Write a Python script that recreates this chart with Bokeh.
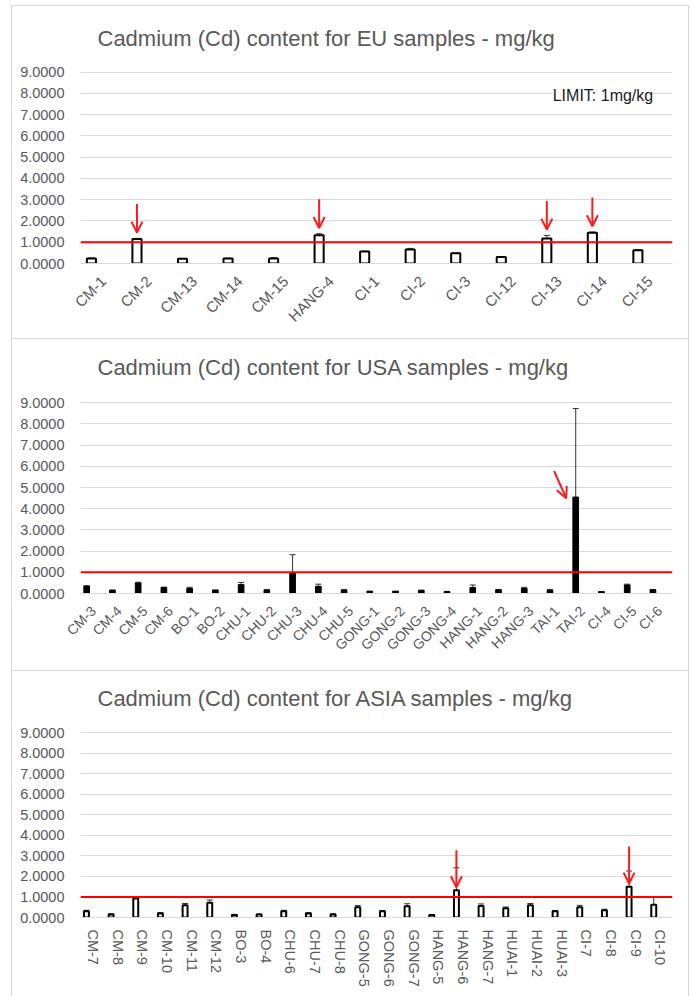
import math
from bokeh.plotting import figure
from bokeh.models import (ColumnDataSource, Span, Label, Arrow, OpenHead, Whisker,
                          TeeHead, NumeralTickFormatter, FixedTicker, Range1d)
from bokeh.transform import dodge
from bokeh.layouts import column
from bokeh.embed import file_html
from bokeh.resources import INLINE

# ---------------- data ----------------
y_ticks = [0, 1, 2, 3, 4, 5, 6, 7, 8, 9]
limit_value = 1.0
limit_text = "LIMIT: 1mg/kg"

eu_title = "Cadmium (Cd) content for EU samples - mg/kg"
eu_samples = ["CM-1", "CM-2", "CM-13", "CM-14", "CM-15", "HANG-4", "CI-1", "CI-2",
              "CI-3", "CI-12", "CI-13", "CI-14", "CI-15"]
eu_mean = [0.24, 1.15, 0.22, 0.23, 0.24, 1.33, 0.56, 0.66, 0.48, 0.30, 1.17, 1.44, 0.62]
eu_err = [0.02, 0.03, 0.02, 0.02, 0.04, 0.07, 0.02, 0.05, 0.02, 0.02, 0.15, 0.04, 0.02]
eu_flagged = ["CM-2", "HANG-4", "CI-13", "CI-14"]

usa_title = "Cadmium (Cd) content for USA samples - mg/kg"
usa_samples = ["CM-3", "CM-4", "CM-5", "CM-6", "BO-1", "BO-2", "CHU-1", "CHU-2", "CHU-3",
               "CHU-4", "CHU-5", "GONG-1", "GONG-2", "GONG-3", "GONG-4", "HANG-1", "HANG-2",
               "HANG-3", "TAI-1", "TAI-2", "CI-4", "CI-5", "CI-6"]
usa_mean = [0.34, 0.14, 0.50, 0.28, 0.24, 0.15, 0.42, 0.15, 0.95, 0.34, 0.15, 0.10, 0.10,
            0.14, 0.09, 0.28, 0.17, 0.24, 0.15, 4.55, 0.08, 0.40, 0.17]
usa_err = [0.03, 0.03, 0.03, 0.02, 0.05, 0.02, 0.10, 0.04, 0.88, 0.10, 0.04, 0.01, 0.01,
           0.02, 0.01, 0.12, 0.02, 0.05, 0.04, 4.18, 0.01, 0.04, 0.02]
usa_flagged = ["TAI-2"]

asia_title = "Cadmium (Cd) content for ASIA samples - mg/kg"
asia_samples = ["CM-7", "CM-8", "CM-9", "CM-10", "CM-11", "CM-12", "BO-3", "BO-4", "CHU-6",
                "CHU-7", "CHU-8", "GONG-5", "GONG-6", "GONG-7", "HANG-5", "HANG-6", "HANG-7",
                "HUAI-1", "HUAI-2", "HUAI-3", "CI-7", "CI-8", "CI-9", "CI-10"]
asia_mean = [0.30, 0.15, 0.93, 0.20, 0.60, 0.72, 0.12, 0.15, 0.30, 0.20, 0.15, 0.50, 0.30,
             0.55, 0.12, 1.32, 0.56, 0.45, 0.60, 0.30, 0.50, 0.35, 1.50, 0.62]
asia_err = [0.05, 0.03, 0.05, 0.04, 0.08, 0.13, 0.03, 0.02, 0.05, 0.04, 0.03, 0.08, 0.04,
            0.12, 0.02, 1.10, 0.10, 0.06, 0.08, 0.04, 0.09, 0.05, 0.76, 0.36]
asia_flagged = ["HANG-6", "CI-9"]

FONT = "Liberation Sans"
GRAY_TXT = "#595959"
GRID = "#d9d9d9"
BAR_OFF = -0.26


def make_panel(title, cats, mean, err, flagged, plot_h, head_h, bottom,
               orient, label_size, label_standoff, hollow, arrow_style="above",
               show_limit_label=False, border_css=None, title_shift=34):
    src = ColumnDataSource(dict(
        cat=cats, mean=mean,
        upper=[m + e for m, e in zip(mean, err)],
        lower=[max(m - e, 0) for m, e in zip(mean, err)],
        xpos=[i + 0.5 + BAR_OFF for i in range(len(cats))],
    ))
    frame_h = plot_h + head_h
    y_top = y_ticks[-1] * frame_h / plot_h  # headroom above the 9.0 gridline holds the title
    p = figure(x_range=cats, y_range=Range1d(0, y_top), frame_width=590, frame_height=frame_h,
               min_border_left=68, min_border_right=18, min_border_top=0,
               min_border_bottom=bottom, output_backend="svg", toolbar_location=None,
               background_fill_color="white", border_fill_color="white")
    p.outline_line_color = None

    p.add_layout(Label(x=0, y=y_ticks[-1], text=title, x_offset=17, y_offset=title_shift,
                       text_align="left", text_baseline="middle", text_font=FONT,
                       text_font_size="22px", text_color=GRAY_TXT))

    p.yaxis.ticker = FixedTicker(ticks=y_ticks)
    p.yaxis.formatter = NumeralTickFormatter(format="0.0000")
    p.yaxis.axis_line_color = None
    p.yaxis.major_tick_line_color = None
    p.yaxis.minor_tick_line_color = None
    p.yaxis.major_label_standoff = 10
    p.yaxis.major_label_text_font = FONT
    p.yaxis.major_label_text_font_size = "14.5px"
    p.yaxis.major_label_text_color = GRAY_TXT

    p.xaxis.axis_line_color = GRID
    p.xaxis.major_tick_line_color = None
    p.xaxis.major_label_orientation = orient
    p.xaxis.major_label_text_font = FONT
    p.xaxis.major_label_text_font_size = label_size
    p.xaxis.major_label_text_color = GRAY_TXT
    p.xaxis.major_label_standoff = label_standoff

    p.xgrid.grid_line_color = None
    p.ygrid.grid_line_color = GRID
    p.ygrid.grid_line_width = 1

    if hollow:
        p.vbar(x=dodge("cat", BAR_OFF, range=p.x_range), top="mean", width=0.2, source=src,
               fill_color="white", line_color="black", line_width=2)
    else:
        p.vbar(x=dodge("cat", BAR_OFF, range=p.x_range), top="mean", width=0.22, source=src,
               fill_color="black", line_color="black", line_width=1)

    p.add_layout(Whisker(source=src, base="xpos", upper="upper", lower="lower",
                         line_color="#333333", line_width=1,
                         upper_head=TeeHead(size=6, line_color="#333333", line_width=1),
                         lower_head=TeeHead(size=6, line_color="#333333", line_width=1)))

    p.add_layout(Span(location=limit_value, dimension="width", line_color="#ff0000",
                      line_width=2))

    if show_limit_label:
        p.add_layout(Label(x=len(cats) - 0.38, y=8, text=limit_text, text_align="right",
                           text_baseline="middle", text_font=FONT, text_font_size="16px",
                           text_color="#1a1a1a", background_fill_color="white",
                           x_offset=-2, y_offset=-2))

    for name in flagged:
        i = cats.index(name)
        xb = i + 0.5 + BAR_OFF
        tip = mean[i] + err[i]
        if arrow_style == "diag":
            xs, ys, xe, ye = xb - 0.84, mean[i] + 1.23, xb - 0.37, mean[i] - 0.05
        elif arrow_style == "low":
            xs, ys, xe, ye = xb, mean[i] + 1.95, xb, mean[i] + 0.15
        else:
            xs, ys, xe, ye = xb, tip + 1.62, xb, tip + 0.27
        p.add_layout(Arrow(end=OpenHead(size=11, line_color="#ff1a1a", line_width=2),
                           x_start=xs, y_start=ys, x_end=xe, y_end=ye,
                           line_color="#ff1a1a", line_width=2))
    if border_css:
        p.styles = border_css
    return p


p1 = make_panel(eu_title, eu_samples, eu_mean, eu_err, eu_flagged, 190, 65, 77,
                math.pi / 4, "15px", 9, True, show_limit_label=True,
                border_css={"border": "1px solid #d9d9d9"}, title_shift=34)
p2 = make_panel(usa_title, usa_samples, usa_mean, usa_err, usa_flagged, 190, 63, 78,
                math.pi / 4, "14px", 9, False, arrow_style="diag",
                border_css={"border-left": "1px solid #d9d9d9",
                            "border-right": "1px solid #d9d9d9",
                            "border-bottom": "1px solid #d9d9d9"}, title_shift=35)
p3 = make_panel(asia_title, asia_samples, asia_mean, asia_err, asia_flagged, 185, 61, 80,
                "vertical", "14.5px", 6, True, arrow_style="low",
                border_css={"border-left": "1px solid #d9d9d9",
                            "border-right": "1px solid #d9d9d9"}, title_shift=34)

layout = column(p1, p2, p3, spacing=0, margin=(5, 0, 0, 11))
open("out.html", "w").write(file_html(layout, INLINE))
